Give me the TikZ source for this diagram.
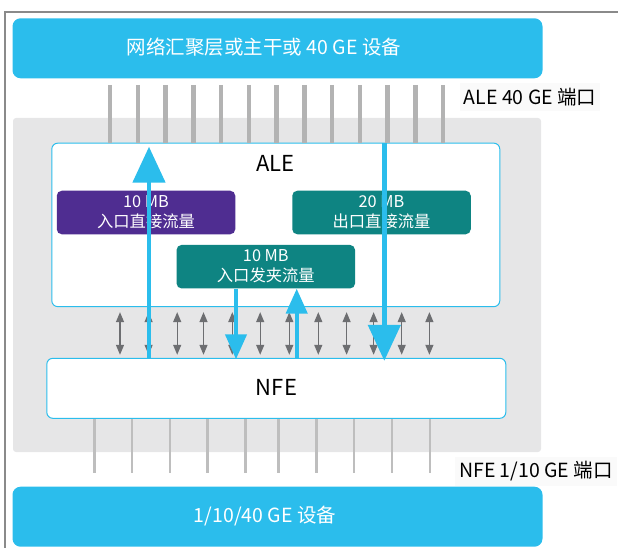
\documentclass[tikz,border=0pt]{standalone}
\usepackage{fontspec}
\newfontfamily\cjk{Noto Sans CJK SC}
\usetikzlibrary{arrows.meta}
\definecolor{cblue}{HTML}{2BBDEC}
\definecolor{cpurple}{HTML}{4F2D91}
\definecolor{cteal}{HTML}{0E8482}
\definecolor{cgrayreg}{HTML}{E6E6E7}
\definecolor{cport}{HTML}{B3B3B3}
\definecolor{cdbl}{HTML}{6D6E71}
\definecolor{cframe}{HTML}{8A8A8A}
\tikzset{
  devbox/.style={draw=none, fill=cblue, rounded corners=8pt, minimum width=530pt, minimum height=60pt},
  devtext/.style={text=white, font=\cjk\fontsize{19.5}{22}\selectfont},
  chipbox/.style={draw=cblue, line width=1pt, fill=white, rounded corners=6pt},
  bufbox/.style={draw=none, rounded corners=5pt, minimum width=178.5pt, minimum height=43.5pt,
    text=white, align=center, font=\cjk\fontsize{16.3}{20}\selectfont},
  chiplabel/.style={font=\cjk\fontsize{22}{24}\selectfont, text=black},
  portlabel/.style={font=\cjk\fontsize{19.5}{22}\selectfont, text=black, fill=black!2, inner xsep=4pt, inner ysep=5pt},
  topport/.style={draw=cport, line width=4.5pt},
  botport/.style={draw=cport!85!white, line width=2.5pt},
  dblarrow/.style={draw=cdbl, line width=1.3pt, {Triangle[width=8pt,length=10pt]}-{Triangle[width=8pt,length=10pt]}},
  flowbig/.style={draw=cblue, line width=4.8pt, -{Triangle[width=32pt,length=36pt]}},
  flowsmall/.style={draw=cblue, line width=4.3pt, -{Triangle[width=21pt,length=25pt]}},
}
\begin{document}
\begin{tikzpicture}[x=1pt,y=-1pt]
\useasboundingbox (0,0) rectangle (618,548);
% frame
\coordinate (fTL) at (5,12);
\coordinate (fTR) at (618,12);
\coordinate (fBL) at (5,548);
\draw[cframe, line width=1.3pt] (fTR) -- (fTL) -- (fBL);
% gray chassis region
\node[fill=cgrayreg, draw=none, rounded corners=3pt, minimum width=528pt, minimum height=334pt, inner sep=0pt] (chassis) at (277,285) {};
% devices
\node[devbox] (top) at (277.5,48.3) {};
\node[devtext] (toptext) at (264,47.5) {网络汇聚层或主干或 40 GE 设备};
\node[devbox] (bot) at (277.5,516.7) {};
\node[devtext] (bottext) at (265,516.5) {1/10/40 GE 设备};
% chips
\node[chipbox, minimum width=448pt, minimum height=163.5pt] (ale) at (275.8,224.9) {};
\node[chipbox, minimum width=459pt, minimum height=60pt] (nfe) at (276.3,388.3) {};
\node[chiplabel] (alelbl) at (275.7,163) {ALE};
\node[chiplabel] (nfelbl) at (276.5,387) {NFE};
% top ports
\foreach \x [count=\i] in {110,137.8,165.6,193.3,221,248.8,276.6,304.4,332.1,359.9,387.6,415.3,443} {
  \coordinate (tp\i) at (\x,85);
  \draw[topport] (tp\i) -- (tp\i |- ale.north);
}
% bottom ports
\foreach \x [count=\i] in {94.3,132,170,207.7,245.5,278.5,316.5,354,392,430} {
  \coordinate (bp\i) at (\x,473);
  \draw[botport] (bp\i |- nfe.south) -- (bp\i);
}
% port labels
\node[portlabel] (alep) at (530,97) {ALE 40 GE 端口};
\node[portlabel] (nfep) at (536,471.5) {NFE 1/10 GE 端口};
% buffer boxes
\node[bufbox, fill=cpurple] (ingdir) at (146,212.5) {10 MB\\入口直接流量};
\node[bufbox, fill=cteal] (egdir) at (381.5,212.5) {20 MB\\出口直接流量};
\node[bufbox, fill=cteal] (ingpin) at (265.8,266.7) {10 MB\\入口发夹流量};
% internal links
\foreach \x [count=\i] in {120,148.6,177.2,203.5,232.3,260.2,289.3,318.3,346.6,373.6,401.7,429.4} {
  \coordinate (dl\i) at (\x,330);
  \draw[dblarrow, shorten <=5pt, shorten >=3pt] (dl\i |- ale.south) -- (dl\i |- nfe.north);
}
% flows
\coordinate (f1top) at (149,146.7);
\draw[flowbig] (f1top |- nfe.north) -- (f1top);
\coordinate (f2) at (384.3,300);
\draw[flowbig] (f2 |- ale.north) -- ([yshift=-3pt]f2 |- nfe.north);
\coordinate (f3) at (236,300);
\draw[flowsmall] (f3 |- ingpin.south) -- ([yshift=-1.5pt]f3 |- nfe.north);
\coordinate (f4) at (296.7,300);
\draw[flowsmall] (f4 |- nfe.north) -- (f4 |- ingpin.south);
\end{tikzpicture}
\end{document}
